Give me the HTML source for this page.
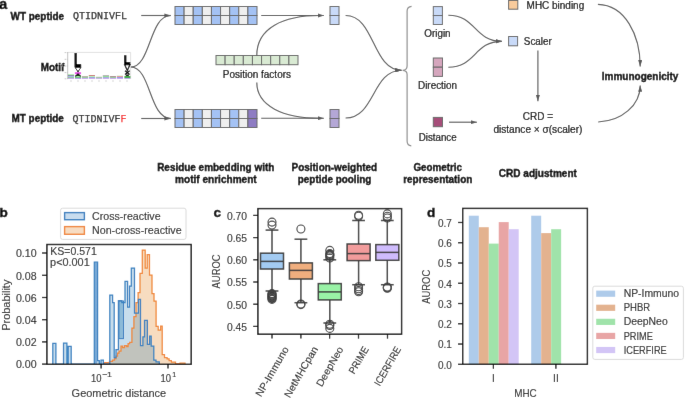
<!DOCTYPE html>
<html><head><meta charset="utf-8"><style>
html,body{margin:0;padding:0;background:#fff;overflow:hidden;}
svg{display:block;}
</style></head><body>
<svg width="685" height="398" viewBox="0 0 685 398">
<defs><filter id="bl" x="0" y="0" width="100%" height="100%" filterUnits="userSpaceOnUse"><feConvolveMatrix order="3" kernelMatrix="0.0028 0.047 0.0028 0.047 0.8008 0.047 0.0028 0.047 0.0028" edgeMode="duplicate" preserveAlpha="true"/></filter></defs>
<g filter="url(#bl)">
<rect width="685" height="398" fill="#fff"/>
<text x="-0.7" y="9.0" font-size="14.2" font-weight="bold" fill="#000" font-family='"Liberation Sans", sans-serif' text-anchor="start" stroke="#000" stroke-width="0.35" >a</text>
<text x="10.6" y="19.5" font-size="10" font-weight="bold" fill="#000" font-family='"Liberation Sans", sans-serif' text-anchor="start" textLength="53.5" lengthAdjust="spacingAndGlyphs" stroke="#000" stroke-width="0.35" >WT peptide</text>
<text x="72.9" y="18.9" font-size="10" font-weight="normal" fill="#222" font-family='"Liberation Mono", monospace' text-anchor="start" textLength="54" lengthAdjust="spacingAndGlyphs" stroke="#222" stroke-width="0.25">QTIDNIVFL</text>
<text x="11.6" y="122.0" font-size="10" font-weight="bold" fill="#000" font-family='"Liberation Sans", sans-serif' text-anchor="start" textLength="52.2" lengthAdjust="spacingAndGlyphs" stroke="#000" stroke-width="0.35" >MT peptide</text>
<text x="72.5" y="122.4" font-size="10" fill="#222" stroke="#222" stroke-width="0.25" font-family='"Liberation Mono", monospace' textLength="54" lengthAdjust="spacingAndGlyphs">QTIDNIVF<tspan fill="#f52a2a" stroke="#f52a2a">F</tspan></text>
<text x="40.7" y="71.2" font-size="10" font-weight="bold" fill="#000" font-family='"Liberation Sans", sans-serif' text-anchor="start" textLength="23.5" lengthAdjust="spacingAndGlyphs" stroke="#000" stroke-width="0.35" >Motif</text>
<rect x="175.0" y="6.5" width="9.11" height="9.0" fill="#a4c2f4" stroke="#666666" stroke-width="1" />
<rect x="184.11" y="6.5" width="9.11" height="9.0" fill="#efefef" stroke="#666666" stroke-width="1" />
<rect x="193.22" y="6.5" width="9.11" height="9.0" fill="#a4c2f4" stroke="#666666" stroke-width="1" />
<rect x="202.33" y="6.5" width="9.11" height="9.0" fill="#efefef" stroke="#666666" stroke-width="1" />
<rect x="211.44" y="6.5" width="9.11" height="9.0" fill="#a4c2f4" stroke="#666666" stroke-width="1" />
<rect x="220.56" y="6.5" width="9.11" height="9.0" fill="#efefef" stroke="#666666" stroke-width="1" />
<rect x="229.67" y="6.5" width="9.11" height="9.0" fill="#a4c2f4" stroke="#666666" stroke-width="1" />
<rect x="238.78" y="6.5" width="9.11" height="9.0" fill="#efefef" stroke="#666666" stroke-width="1" />
<rect x="247.89" y="6.5" width="9.11" height="9.0" fill="#a4c2f4" stroke="#666666" stroke-width="1" />
<rect x="175.0" y="15.5" width="9.11" height="9.0" fill="#a4c2f4" stroke="#666666" stroke-width="1" />
<rect x="184.11" y="15.5" width="9.11" height="9.0" fill="#efefef" stroke="#666666" stroke-width="1" />
<rect x="193.22" y="15.5" width="9.11" height="9.0" fill="#a4c2f4" stroke="#666666" stroke-width="1" />
<rect x="202.33" y="15.5" width="9.11" height="9.0" fill="#efefef" stroke="#666666" stroke-width="1" />
<rect x="211.44" y="15.5" width="9.11" height="9.0" fill="#a4c2f4" stroke="#666666" stroke-width="1" />
<rect x="220.56" y="15.5" width="9.11" height="9.0" fill="#efefef" stroke="#666666" stroke-width="1" />
<rect x="229.67" y="15.5" width="9.11" height="9.0" fill="#a4c2f4" stroke="#666666" stroke-width="1" />
<rect x="238.78" y="15.5" width="9.11" height="9.0" fill="#efefef" stroke="#666666" stroke-width="1" />
<rect x="247.89" y="15.5" width="9.11" height="9.0" fill="#a4c2f4" stroke="#666666" stroke-width="1" />
<rect x="175.0" y="109.5" width="9.11" height="9.0" fill="#a4c2f4" stroke="#666666" stroke-width="1" />
<rect x="184.11" y="109.5" width="9.11" height="9.0" fill="#efefef" stroke="#666666" stroke-width="1" />
<rect x="193.22" y="109.5" width="9.11" height="9.0" fill="#a4c2f4" stroke="#666666" stroke-width="1" />
<rect x="202.33" y="109.5" width="9.11" height="9.0" fill="#efefef" stroke="#666666" stroke-width="1" />
<rect x="211.44" y="109.5" width="9.11" height="9.0" fill="#a4c2f4" stroke="#666666" stroke-width="1" />
<rect x="220.56" y="109.5" width="9.11" height="9.0" fill="#efefef" stroke="#666666" stroke-width="1" />
<rect x="229.67" y="109.5" width="9.11" height="9.0" fill="#a4c2f4" stroke="#666666" stroke-width="1" />
<rect x="238.78" y="109.5" width="9.11" height="9.0" fill="#efefef" stroke="#666666" stroke-width="1" />
<rect x="247.89" y="109.5" width="9.11" height="9.0" fill="#8e7cc3" stroke="#666666" stroke-width="1" />
<rect x="175.0" y="118.5" width="9.11" height="9.0" fill="#a4c2f4" stroke="#666666" stroke-width="1" />
<rect x="184.11" y="118.5" width="9.11" height="9.0" fill="#efefef" stroke="#666666" stroke-width="1" />
<rect x="193.22" y="118.5" width="9.11" height="9.0" fill="#a4c2f4" stroke="#666666" stroke-width="1" />
<rect x="202.33" y="118.5" width="9.11" height="9.0" fill="#efefef" stroke="#666666" stroke-width="1" />
<rect x="211.44" y="118.5" width="9.11" height="9.0" fill="#a4c2f4" stroke="#666666" stroke-width="1" />
<rect x="220.56" y="118.5" width="9.11" height="9.0" fill="#efefef" stroke="#666666" stroke-width="1" />
<rect x="229.67" y="118.5" width="9.11" height="9.0" fill="#a4c2f4" stroke="#666666" stroke-width="1" />
<rect x="238.78" y="118.5" width="9.11" height="9.0" fill="#efefef" stroke="#666666" stroke-width="1" />
<rect x="247.89" y="118.5" width="9.11" height="9.0" fill="#8e7cc3" stroke="#666666" stroke-width="1" />
<rect x="216.0" y="55.5" width="9.11" height="9.2" fill="#d9ead3" stroke="#666666" stroke-width="1" />
<rect x="225.11" y="55.5" width="9.11" height="9.2" fill="#d9ead3" stroke="#666666" stroke-width="1" />
<rect x="234.22" y="55.5" width="9.11" height="9.2" fill="#d9ead3" stroke="#666666" stroke-width="1" />
<rect x="243.33" y="55.5" width="9.11" height="9.2" fill="#d9ead3" stroke="#666666" stroke-width="1" />
<rect x="252.44" y="55.5" width="9.11" height="9.2" fill="#d9ead3" stroke="#666666" stroke-width="1" />
<rect x="261.56" y="55.5" width="9.11" height="9.2" fill="#d9ead3" stroke="#666666" stroke-width="1" />
<rect x="270.67" y="55.5" width="9.11" height="9.2" fill="#d9ead3" stroke="#666666" stroke-width="1" />
<rect x="279.78" y="55.5" width="9.11" height="9.2" fill="#d9ead3" stroke="#666666" stroke-width="1" />
<rect x="288.89" y="55.5" width="9.11" height="9.2" fill="#d9ead3" stroke="#666666" stroke-width="1" />
<text x="222.8" y="78.2" font-size="10" font-weight="normal" fill="#000" font-family='"Liberation Sans", sans-serif' text-anchor="start" textLength="68.2" lengthAdjust="spacingAndGlyphs" stroke="#000" stroke-width="0.2" >Position factors</text>
<rect x="330.0" y="6.5" width="9.0" height="9.0" fill="#c9daf8" stroke="#666666" stroke-width="1" />
<rect x="330.0" y="15.5" width="9.0" height="9.0" fill="#c9daf8" stroke="#666666" stroke-width="1" />
<rect x="330.0" y="109.5" width="9.0" height="9.0" fill="#b4a7d6" stroke="#666666" stroke-width="1" />
<rect x="330.0" y="118.5" width="9.0" height="9.0" fill="#b4a7d6" stroke="#666666" stroke-width="1" />
<rect x="433.3" y="6.6" width="9.1" height="8.95" fill="#c9daf8" stroke="#666666" stroke-width="1" />
<rect x="433.3" y="15.55" width="9.1" height="8.95" fill="#c9daf8" stroke="#666666" stroke-width="1" />
<rect x="433.3" y="58.0" width="9.2" height="9.2" fill="#d5a6bd" stroke="#666666" stroke-width="1" />
<rect x="433.3" y="67.2" width="9.2" height="9.2" fill="#d5a6bd" stroke="#666666" stroke-width="1" />
<rect x="433.3" y="117.4" width="9.2" height="9.3" fill="#a64d79" stroke="#666666" stroke-width="1" />
<rect x="508.6" y="0.4" width="9.2" height="8.8" fill="#f9cb9c" stroke="#666666" stroke-width="1" />
<rect x="508.6" y="36.5" width="9.0" height="9.3" fill="#c9daf8" stroke="#666666" stroke-width="1" />
<text x="424.3" y="37.3" font-size="10" font-weight="normal" fill="#000" font-family='"Liberation Sans", sans-serif' text-anchor="start" textLength="26.3" lengthAdjust="spacingAndGlyphs" stroke="#000" stroke-width="0.2" >Origin</text>
<text x="418.0" y="89.3" font-size="10" font-weight="normal" fill="#000" font-family='"Liberation Sans", sans-serif' text-anchor="start" textLength="39.1" lengthAdjust="spacingAndGlyphs" stroke="#000" stroke-width="0.2" >Direction</text>
<text x="418.7" y="140.6" font-size="10" font-weight="normal" fill="#000" font-family='"Liberation Sans", sans-serif' text-anchor="start" textLength="37.9" lengthAdjust="spacingAndGlyphs" stroke="#000" stroke-width="0.2" >Distance</text>
<text x="526.6" y="9.1" font-size="10" font-weight="normal" fill="#000" font-family='"Liberation Sans", sans-serif' text-anchor="start" textLength="57.6" lengthAdjust="spacingAndGlyphs" stroke="#000" stroke-width="0.2" >MHC binding</text>
<text x="523.8" y="45.1" font-size="10" font-weight="normal" fill="#000" font-family='"Liberation Sans", sans-serif' text-anchor="start" textLength="28" lengthAdjust="spacingAndGlyphs" stroke="#000" stroke-width="0.2" >Scaler</text>
<text x="522.8" y="120.0" font-size="10" font-weight="normal" fill="#000" font-family='"Liberation Sans", sans-serif' text-anchor="start" textLength="30.2" lengthAdjust="spacingAndGlyphs" stroke="#000" stroke-width="0.2" >CRD =</text>
<text x="493.4" y="132.6" font-size="10" font-weight="normal" fill="#000" font-family='"Liberation Sans", sans-serif' text-anchor="start" textLength="89" lengthAdjust="spacingAndGlyphs" stroke="#000" stroke-width="0.2" >distance × σ(scaler)</text>
<text x="601.8" y="79.8" font-size="10" font-weight="bold" fill="#000" font-family='"Liberation Sans", sans-serif' text-anchor="start" textLength="76.6" lengthAdjust="spacingAndGlyphs" stroke="#000" stroke-width="0.35" >Immunogenicity</text>
<text x="157.2" y="170.9" font-size="10" font-weight="bold" fill="#000" font-family='"Liberation Sans", sans-serif' text-anchor="start" textLength="117.1" lengthAdjust="spacingAndGlyphs" stroke="#000" stroke-width="0.35" >Residue embedding with</text>
<text x="175.1" y="182.6" font-size="10" font-weight="bold" fill="#000" font-family='"Liberation Sans", sans-serif' text-anchor="start" textLength="81.6" lengthAdjust="spacingAndGlyphs" stroke="#000" stroke-width="0.35" >motif enrichment</text>
<text x="291.6" y="170.9" font-size="10" font-weight="bold" fill="#000" font-family='"Liberation Sans", sans-serif' text-anchor="start" textLength="85.5" lengthAdjust="spacingAndGlyphs" stroke="#000" stroke-width="0.35" >Position-weighted</text>
<text x="297.8" y="182.6" font-size="10" font-weight="bold" fill="#000" font-family='"Liberation Sans", sans-serif' text-anchor="start" textLength="73.6" lengthAdjust="spacingAndGlyphs" stroke="#000" stroke-width="0.35" >peptide pooling</text>
<text x="413.4" y="170.9" font-size="10" font-weight="bold" fill="#000" font-family='"Liberation Sans", sans-serif' text-anchor="start" textLength="48.6" lengthAdjust="spacingAndGlyphs" stroke="#000" stroke-width="0.35" >Geometric</text>
<text x="403.2" y="182.6" font-size="10" font-weight="bold" fill="#000" font-family='"Liberation Sans", sans-serif' text-anchor="start" textLength="69.1" lengthAdjust="spacingAndGlyphs" stroke="#000" stroke-width="0.35" >representation</text>
<text x="498.8" y="176.5" font-size="10" font-weight="bold" fill="#000" font-family='"Liberation Sans", sans-serif' text-anchor="start" textLength="78.1" lengthAdjust="spacingAndGlyphs" stroke="#000" stroke-width="0.35" >CRD adjustment</text>
<defs><marker id="ah" viewBox="0 0 6.4 4.4" refX="6.4" refY="2.2" markerWidth="6.4" markerHeight="4.4" markerUnits="userSpaceOnUse" orient="auto"><path d="M0,0.1 L6.4,2.2 L0,4.3 Z" fill="#595959"/></marker></defs>
<path d="M141.2,15.5 L170.8,15.5" stroke="#595959" stroke-width="1.15" fill="none" marker-end="url(#ah)"/>
<path d="M141.2,118.5 L170.8,118.5" stroke="#595959" stroke-width="1.15" fill="none" marker-end="url(#ah)"/>
<path d="M130.8,67 C151,67 149,15.5 170.8,15.5" stroke="#595959" stroke-width="1.15" fill="none" />
<path d="M130.8,67 C151,67 149,118.5 170.8,118.5" stroke="#595959" stroke-width="1.15" fill="none" />
<path d="M261.2,15.5 L323.9,15.5" stroke="#595959" stroke-width="1.15" fill="none" marker-end="url(#ah)"/>
<path d="M261.2,118.2 L323.9,118.2" stroke="#595959" stroke-width="1.15" fill="none" marker-end="url(#ah)"/>
<path d="M256.8,55.3 C256.8,28 283,15.5 320,15.5" stroke="#595959" stroke-width="1.15" fill="none" />
<path d="M256.8,82.6 C256.8,106 283,118.2 320,118.2" stroke="#595959" stroke-width="1.15" fill="none" />
<path d="M345.6,15.5 C375,15.5 372,70.2 401.6,70.2" stroke="#595959" stroke-width="1.15" fill="none" marker-end="url(#ah)"/>
<path d="M345.6,118 C375,118 372,70.2 401.6,70.2" stroke="#595959" stroke-width="1.15" fill="none" marker-end="url(#ah)"/>
<path d="M411.6,6.3 Q407.1,6.8 407.1,11 L407.1,66 Q407.1,70.2 402.6,70.3 Q407.1,70.6 407.1,74.5 L407.1,141 Q407.1,145.6 411.3,145.8" stroke="#8f8f8f" stroke-width="1.2" fill="none" />
<path d="M448.3,15.2 C476,15.2 474,41.3 501.9,41.3" stroke="#595959" stroke-width="1.15" fill="none" marker-end="url(#ah)"/>
<path d="M448.3,67.2 C476,67.2 474,41.3 501.9,41.3" stroke="#595959" stroke-width="1.15" fill="none" marker-end="url(#ah)"/>
<path d="M449,122.2 L476.9,122.2" stroke="#595959" stroke-width="1.15" fill="none" marker-end="url(#ah)"/>
<path d="M537.9,50.6 L537.9,101.2" stroke="#595959" stroke-width="1.15" fill="none" marker-end="url(#ah)"/>
<path d="M597.9,4.4 C625,5 640.2,35 640.2,66.5" stroke="#595959" stroke-width="1.15" fill="none" marker-end="url(#ah)"/>
<path d="M598.2,122 C622,121 640.2,105 640.2,85.4" stroke="#595959" stroke-width="1.15" fill="none" marker-end="url(#ah)"/>
<g>
<path d="M67.7,52.4 L130.6,52.4 L130.6,78.8" stroke="#d4d4d4" stroke-width="0.7" fill="none" />
<line x1="67.7" y1="52.2" x2="67.7" y2="79.0" stroke="#a8a8a8" stroke-width="0.7" />
<line x1="66.5" y1="52.6" x2="67.7" y2="52.6" stroke="#b0b0b0" stroke-width="0.5" />
<rect x="64.6" y="52.1" width="1.4" height="1.0" fill="#c8c8c8" stroke="none" stroke-width="1" />
<line x1="66.5" y1="59.3" x2="67.7" y2="59.3" stroke="#b0b0b0" stroke-width="0.5" />
<rect x="64.6" y="58.8" width="1.4" height="1.0" fill="#c8c8c8" stroke="none" stroke-width="1" />
<line x1="66.5" y1="66.0" x2="67.7" y2="66.0" stroke="#b0b0b0" stroke-width="0.5" />
<rect x="64.6" y="65.5" width="1.4" height="1.0" fill="#c8c8c8" stroke="none" stroke-width="1" />
<line x1="66.5" y1="72.6" x2="67.7" y2="72.6" stroke="#b0b0b0" stroke-width="0.5" />
<rect x="64.6" y="72.1" width="1.4" height="1.0" fill="#c8c8c8" stroke="none" stroke-width="1" />
<line x1="66.5" y1="78.8" x2="67.7" y2="78.8" stroke="#b0b0b0" stroke-width="0.5" />
<rect x="64.6" y="78.3" width="1.4" height="1.0" fill="#c8c8c8" stroke="none" stroke-width="1" />
<rect x="61.5" y="63.5" width="1.0" height="3.5" fill="#bbbbbb" stroke="none" stroke-width="1" />
<rect x="70.5" y="80.3" width="1.0" height="1.4" fill="#c4c4c4" stroke="none" stroke-width="1" />
<rect x="77.5" y="80.3" width="1.0" height="1.4" fill="#c4c4c4" stroke="none" stroke-width="1" />
<rect x="84.5" y="80.3" width="1.0" height="1.4" fill="#c4c4c4" stroke="none" stroke-width="1" />
<rect x="91.5" y="80.3" width="1.0" height="1.4" fill="#c4c4c4" stroke="none" stroke-width="1" />
<rect x="98.5" y="80.3" width="1.0" height="1.4" fill="#c4c4c4" stroke="none" stroke-width="1" />
<rect x="105.5" y="80.3" width="1.0" height="1.4" fill="#c4c4c4" stroke="none" stroke-width="1" />
<rect x="112.5" y="80.3" width="1.0" height="1.4" fill="#c4c4c4" stroke="none" stroke-width="1" />
<rect x="119.5" y="80.3" width="1.0" height="1.4" fill="#c4c4c4" stroke="none" stroke-width="1" />
<rect x="126.5" y="80.3" width="1.0" height="1.4" fill="#c4c4c4" stroke="none" stroke-width="1" />
<path d="M74.5,53 L76.8,53 L76.8,64.0 L80.6,64.0 L81.2,64.6 L81.2,67.0 L74.5,67.0 Z" stroke="none" stroke-width="1.15" fill="#000" />
<path d="M75.0,67.4 L81.0,67.4 L78.0,71.6 Z" stroke="#000" stroke-width="0.9" fill="#fff" />
<rect x="77.1" y="71.3" width="1.8" height="1.0" fill="#000" stroke="none" stroke-width="1" />
<rect x="74.9" y="72.2" width="6.2" height="2.0" fill="#e64ce6" stroke="none" stroke-width="1" />
<path d="M75.2,76.4 L78,74.2 L80.8,76.4" stroke="#000" stroke-width="1.3" fill="none" />
<rect x="75.0" y="76.5" width="6.0" height="1.2" fill="#3ad43a" stroke="none" stroke-width="1" />
<rect x="75.0" y="77.7" width="6.0" height="1.0" fill="#7a4ad0" stroke="none" stroke-width="1" opacity="0.8"/>
<path d="M124.1,55.2 L126.4,55.2 L126.4,61.9 L130.3,61.9 L130.3,64.4 L124.1,64.4 Z" stroke="none" stroke-width="1.15" fill="#000" />
<path d="M124.6,64.6 L130.0,64.6 L127.3,70.6 Z" stroke="#000" stroke-width="1.2" fill="#fff" />
<path d="M125,70.8 L129.6,74.6 M129.6,70.8 L125,74.6" stroke="#000" stroke-width="1.3" fill="none" />
<rect x="125.8" y="74.5" width="3.0" height="1.6" fill="#000" stroke="none" stroke-width="1" />
<rect x="124.4" y="76.1" width="6.0" height="1.8" fill="#2fa52f" stroke="none" stroke-width="1" />
<rect x="124.4" y="77.9" width="6.0" height="0.8" fill="#6a4ac0" stroke="none" stroke-width="1" opacity="0.7"/>
<rect x="67.9" y="74.4" width="6.2" height="0.7" fill="#3ad43a" stroke="none" stroke-width="1" opacity="0.6"/>
<rect x="67.9" y="75.1" width="6.2" height="1.0" fill="#333366" stroke="none" stroke-width="1" opacity="0.6"/>
<rect x="67.9" y="76.1" width="6.2" height="1.0" fill="#6a8ad8" stroke="none" stroke-width="1" opacity="0.6"/>
<rect x="67.9" y="77.1" width="6.2" height="0.8" fill="#2faa2f" stroke="none" stroke-width="1" opacity="0.6"/>
<rect x="67.9" y="77.9" width="6.2" height="0.8" fill="#7a3ad0" stroke="none" stroke-width="1" opacity="0.6"/>
<rect x="81.8" y="76.3" width="6.2" height="0.8" fill="#555533" stroke="none" stroke-width="1" opacity="0.6"/>
<rect x="81.8" y="77.1" width="6.2" height="0.8" fill="#3aaa3a" stroke="none" stroke-width="1" opacity="0.6"/>
<rect x="81.8" y="77.9" width="6.2" height="0.8" fill="#7a3ad0" stroke="none" stroke-width="1" opacity="0.6"/>
<rect x="88.8" y="75.0" width="6.2" height="1.0" fill="#aa2222" stroke="none" stroke-width="1" opacity="0.6"/>
<rect x="88.8" y="76.0" width="6.2" height="0.4" fill="#ffffff" stroke="none" stroke-width="1" opacity="0.6"/>
<rect x="88.8" y="76.4" width="6.2" height="0.8" fill="#3ad43a" stroke="none" stroke-width="1" opacity="0.6"/>
<rect x="88.8" y="77.2" width="6.2" height="0.8" fill="#4a4ad0" stroke="none" stroke-width="1" opacity="0.6"/>
<rect x="88.8" y="78.0" width="6.2" height="0.7" fill="#7a3ad0" stroke="none" stroke-width="1" opacity="0.6"/>
<rect x="95.8" y="76.8" width="6.2" height="0.7" fill="#777777" stroke="none" stroke-width="1" opacity="0.6"/>
<rect x="95.8" y="77.5" width="6.2" height="0.6" fill="#3aaa3a" stroke="none" stroke-width="1" opacity="0.6"/>
<rect x="95.8" y="78.1" width="6.2" height="0.6" fill="#7a3ad0" stroke="none" stroke-width="1" opacity="0.6"/>
<rect x="102.8" y="75.4" width="6.2" height="0.8" fill="#333333" stroke="none" stroke-width="1" opacity="0.6"/>
<rect x="102.8" y="76.2" width="6.2" height="1.0" fill="#3ad43a" stroke="none" stroke-width="1" opacity="0.6"/>
<rect x="102.8" y="77.2" width="6.2" height="0.8" fill="#5a5ad0" stroke="none" stroke-width="1" opacity="0.6"/>
<rect x="102.8" y="78.0" width="6.2" height="0.7" fill="#7a3ad0" stroke="none" stroke-width="1" opacity="0.6"/>
<rect x="109.8" y="76.2" width="6.2" height="0.9" fill="#552222" stroke="none" stroke-width="1" opacity="0.6"/>
<rect x="109.8" y="77.1" width="6.2" height="0.8" fill="#3aaa3a" stroke="none" stroke-width="1" opacity="0.6"/>
<rect x="109.8" y="77.9" width="6.2" height="0.8" fill="#7a3ad0" stroke="none" stroke-width="1" opacity="0.6"/>
<rect x="116.8" y="75.6" width="6.2" height="0.6" fill="#8ae08a" stroke="none" stroke-width="1" opacity="0.6"/>
<rect x="116.8" y="76.2" width="6.2" height="0.8" fill="#cc3333" stroke="none" stroke-width="1" opacity="0.6"/>
<rect x="116.8" y="77.0" width="6.2" height="0.9" fill="#4a4ad0" stroke="none" stroke-width="1" opacity="0.6"/>
<rect x="116.8" y="77.9" width="6.2" height="0.8" fill="#7a3ad0" stroke="none" stroke-width="1" opacity="0.6"/>
</g>
<text x="-0.5" y="217.3" font-size="13.6" font-weight="bold" fill="#000" font-family='"Liberation Sans", sans-serif' text-anchor="start" stroke="#000" stroke-width="0.35" >b</text>
<rect x="60.6" y="208.2" width="125.4" height="31.2" rx="2" ry="2" fill="#fff" stroke="#d6d6d6" stroke-width="0.9"/>
<rect x="64.6" y="212.6" width="19.8" height="7.1" fill="#c8dcee" stroke="#3680c0" stroke-width="1.4" />
<rect x="64.6" y="226.6" width="19.8" height="7.7" fill="#f7dcc2" stroke="#f08634" stroke-width="1.4" />
<text x="92.0" y="219.8" font-size="10.4" font-weight="normal" fill="#262626" font-family='"Liberation Sans", sans-serif' text-anchor="start" textLength="68.6" lengthAdjust="spacingAndGlyphs" stroke="#262626" stroke-width="0.12" >Cross-reactive</text>
<text x="92.0" y="233.9" font-size="10.4" font-weight="normal" fill="#262626" font-family='"Liberation Sans", sans-serif' text-anchor="start" textLength="89.6" lengthAdjust="spacingAndGlyphs" stroke="#262626" stroke-width="0.12" >Non-cross-reactive</text>
<path d="M104,364 L104,362.6 L109.5,362.6 L109.5,361.3 L112.5,361.3 L112.5,360.1 L114.5,360.1 L114.5,358.6 L116,358.6 L116,356.1 L117.5,356.1 L117.5,353.1 L119,353.1 L119,351.1 L121,351.1 L121,346.2 L122.6,346.2 L122.6,347.6 L124.5,347.6 L124.5,345.6 L126.7,345.6 L126.7,346.6 L128.1,346.6 L128.1,343.6 L129.6,343.6 L129.6,342.4 L131.9,342.4 L131.9,328 L133.9,328 L133.9,316.5 L136,316.5 L136,302.6 L138.1,302.6 L138.1,292.6 L140,292.6 L140,273.3 L142.3,273.3 L142.3,250 L145.2,250 L145.2,268.2 L147.2,268.2 L147.2,254.5 L149.5,254.5 L149.5,275.2 L152,275.2 L152,293.7 L154,293.7 L154,301.1 L156.1,301.1 L156.1,326.4 L158.2,326.4 L158.2,330.2 L160.6,330.2 L160.6,326 L162.2,326 L162.2,354.7 L164.5,354.7 L164.5,357.6 L167.1,357.6 L167.1,358.8 L169.1,358.8 L169.1,360.7 L171.4,360.7 L171.4,362.2 L175.5,362.2 L175.5,363.5 L180,363.5 L180,363.1 L185,363.1 L185,364 Z" fill="#f7dcc0" stroke="none"/>
<path d="M52.8,364 L52.8,343.3 L55.9,343.3 L55.9,364 L63.5,364 L63.5,343 L66.9,343 L66.9,364 L68.2,364 L68.2,346.3 L71.2,346.3 L71.2,364 L94.3,364 L94.3,262.1 L97.6,262.1 L97.6,360.5 L99.3,360.5 L99.3,364 L101,364 L101,360.2 L103.4,360.2 L103.4,364 L109.8,364 L109.8,295.2 L112.6,295.2 L112.6,302.6 L114.2,302.6 L114.2,357.6 L116,357.6 L116,349.6 L118.4,349.6 L118.4,300.5 L121.8,300.5 L121.8,302.5 L125.0,302.5 L125.0,281.4 L127.6,281.4 L127.6,307.1 L129.5,307.1 L129.5,286 L131.3,286 L131.3,268.1 L134.5,268.1 L134.5,313.2 L138.4,313.2 L138.4,299.4 L140.5,299.4 L140.5,345.6 L142.9,345.6 L142.9,336.8 L144.5,336.8 L144.5,320.4 L147.4,320.4 L147.4,344.3 L149.6,344.3 L149.6,336.1 L151.2,336.1 L151.2,346.2 L153.8,346.2 L153.8,360 L156,360 L156,361.8 L159.3,361.8 L159.3,364 Z" fill="rgba(31,119,180,0.25)" stroke="none"/>
<rect x="94.8" y="262.8" width="2.3" height="101" fill="#78a8d6"/>
<rect x="118.9" y="301.0" width="4.6" height="37.6" fill="rgba(31,119,180,0.35)" stroke="#3a7fc0" stroke-width="1"/>
<path d="M104,364 L104,362.6 L109.5,362.6 L109.5,361.3 L112.5,361.3 L112.5,360.1 L114.5,360.1 L114.5,358.6 L116,358.6 L116,356.1 L117.5,356.1 L117.5,353.1 L119,353.1 L119,351.1 L121,351.1 L121,346.2 L122.6,346.2 L122.6,347.6 L124.5,347.6 L124.5,345.6 L126.7,345.6 L126.7,346.6 L128.1,346.6 L128.1,343.6 L129.6,343.6 L129.6,342.4 L131.9,342.4 L131.9,328 L133.9,328 L133.9,316.5 L136,316.5 L136,302.6 L138.1,302.6 L138.1,292.6 L140,292.6 L140,273.3 L142.3,273.3 L142.3,250 L145.2,250 L145.2,268.2 L147.2,268.2 L147.2,254.5 L149.5,254.5 L149.5,275.2 L152,275.2 L152,293.7 L154,293.7 L154,301.1 L156.1,301.1 L156.1,326.4 L158.2,326.4 L158.2,330.2 L160.6,330.2 L160.6,326 L162.2,326 L162.2,354.7 L164.5,354.7 L164.5,357.6 L167.1,357.6 L167.1,358.8 L169.1,358.8 L169.1,360.7 L171.4,360.7 L171.4,362.2 L175.5,362.2 L175.5,363.5 L180,363.5 L180,363.1 L185,363.1 L185,364" fill="none" stroke="#f08634" stroke-width="1.25" stroke-linejoin="miter"/>
<path d="M52.8,364 L52.8,343.3 L55.9,343.3 L55.9,364 L63.5,364 L63.5,343 L66.9,343 L66.9,364 L68.2,364 L68.2,346.3 L71.2,346.3 L71.2,364 L94.3,364 L94.3,262.1 L97.6,262.1 L97.6,360.5 L99.3,360.5 L99.3,364 L101,364 L101,360.2 L103.4,360.2 L103.4,364 L109.8,364 L109.8,295.2 L112.6,295.2 L112.6,302.6 L114.2,302.6 L114.2,357.6 L116,357.6 L116,349.6 L118.4,349.6 L118.4,300.5 L121.8,300.5 L121.8,302.5 L125.0,302.5 L125.0,281.4 L127.6,281.4 L127.6,307.1 L129.5,307.1 L129.5,286 L131.3,286 L131.3,268.1 L134.5,268.1 L134.5,313.2 L138.4,313.2 L138.4,299.4 L140.5,299.4 L140.5,345.6 L142.9,345.6 L142.9,336.8 L144.5,336.8 L144.5,320.4 L147.4,320.4 L147.4,344.3 L149.6,344.3 L149.6,336.1 L151.2,336.1 L151.2,346.2 L153.8,346.2 L153.8,360 L156,360 L156,361.8 L159.3,361.8 L159.3,364" fill="none" stroke="#3680c0" stroke-width="1.25" stroke-linejoin="miter"/>
<rect x="46.9" y="244.5" width="144.3" height="119.8" fill="none" stroke="#000" stroke-width="1.4"/>
<line x1="42.0" y1="364.1" x2="46.9" y2="364.1" stroke="#000" stroke-width="1.25" />
<text x="15.9" y="368.4" font-size="10.4" font-weight="normal" fill="#262626" font-family='"Liberation Sans", sans-serif' text-anchor="start" textLength="20.7" lengthAdjust="spacingAndGlyphs" stroke="#262626" stroke-width="0.12" >0.00</text>
<line x1="42.0" y1="341.9" x2="46.9" y2="341.9" stroke="#000" stroke-width="1.25" />
<text x="15.9" y="346.2" font-size="10.4" font-weight="normal" fill="#262626" font-family='"Liberation Sans", sans-serif' text-anchor="start" textLength="20.7" lengthAdjust="spacingAndGlyphs" stroke="#262626" stroke-width="0.12" >0.02</text>
<line x1="42.0" y1="319.7" x2="46.9" y2="319.7" stroke="#000" stroke-width="1.25" />
<text x="15.9" y="324.0" font-size="10.4" font-weight="normal" fill="#262626" font-family='"Liberation Sans", sans-serif' text-anchor="start" textLength="20.7" lengthAdjust="spacingAndGlyphs" stroke="#262626" stroke-width="0.12" >0.04</text>
<line x1="42.0" y1="297.5" x2="46.9" y2="297.5" stroke="#000" stroke-width="1.25" />
<text x="15.9" y="301.8" font-size="10.4" font-weight="normal" fill="#262626" font-family='"Liberation Sans", sans-serif' text-anchor="start" textLength="20.7" lengthAdjust="spacingAndGlyphs" stroke="#262626" stroke-width="0.12" >0.06</text>
<line x1="42.0" y1="275.3" x2="46.9" y2="275.3" stroke="#000" stroke-width="1.25" />
<text x="15.9" y="279.6" font-size="10.4" font-weight="normal" fill="#262626" font-family='"Liberation Sans", sans-serif' text-anchor="start" textLength="20.7" lengthAdjust="spacingAndGlyphs" stroke="#262626" stroke-width="0.12" >0.08</text>
<line x1="42.0" y1="253.0" x2="46.9" y2="253.0" stroke="#000" stroke-width="1.25" />
<text x="15.9" y="257.3" font-size="10.4" font-weight="normal" fill="#262626" font-family='"Liberation Sans", sans-serif' text-anchor="start" textLength="20.7" lengthAdjust="spacingAndGlyphs" stroke="#262626" stroke-width="0.12" >0.10</text>
<line x1="101.1" y1="364.3" x2="101.1" y2="368.6" stroke="#000" stroke-width="1.25" />
<line x1="168.0" y1="364.3" x2="168.0" y2="368.6" stroke="#000" stroke-width="1.25" />
<text x="90.9" y="381.6" font-size="10.4" font-weight="normal" fill="#262626" font-family='"Liberation Sans", sans-serif' text-anchor="start" textLength="10.5" lengthAdjust="spacingAndGlyphs" stroke="#262626" stroke-width="0.12" >10</text>
<text x="101.9" y="377.2" font-size="7" font-weight="normal" fill="#262626" font-family='"Liberation Sans", sans-serif' text-anchor="start" textLength="10.2" lengthAdjust="spacingAndGlyphs" stroke="#262626" stroke-width="0.12" >−1</text>
<text x="160.5" y="381.6" font-size="10.4" font-weight="normal" fill="#262626" font-family='"Liberation Sans", sans-serif' text-anchor="start" textLength="10.5" lengthAdjust="spacingAndGlyphs" stroke="#262626" stroke-width="0.12" >10</text>
<text x="172.3" y="377.2" font-size="7.4" font-weight="normal" fill="#262626" font-family='"Liberation Sans", sans-serif' text-anchor="start" textLength="3.9" lengthAdjust="spacingAndGlyphs" stroke="#262626" stroke-width="0.12" >1</text>
<text x="71.6" y="396.9" font-size="10.4" font-weight="normal" fill="#262626" font-family='"Liberation Sans", sans-serif' text-anchor="start" textLength="94.6" lengthAdjust="spacingAndGlyphs" stroke="#262626" stroke-width="0.12" >Geometric distance</text>
<text x="0" y="0" font-size="10.4" fill="#262626" stroke="#262626" stroke-width="0.12" font-family='"Liberation Sans", sans-serif' textLength="51.2" lengthAdjust="spacingAndGlyphs" transform="translate(9.8,330.8) rotate(-90)">Probability</text>
<text x="50.2" y="255.3" font-size="10.2" font-weight="normal" fill="#262626" font-family='"Liberation Sans", sans-serif' text-anchor="start" textLength="46.6" lengthAdjust="spacingAndGlyphs" stroke="#262626" stroke-width="0.12" >KS=0.571</text>
<text x="50.1" y="266.1" font-size="10.2" font-weight="normal" fill="#262626" font-family='"Liberation Sans", sans-serif' text-anchor="start" textLength="39.6" lengthAdjust="spacingAndGlyphs" stroke="#262626" stroke-width="0.12" >p&lt;0.001</text>
<text x="213.4" y="217.2" font-size="13.6" font-weight="bold" fill="#000" font-family='"Liberation Sans", sans-serif' text-anchor="start" stroke="#000" stroke-width="0.35" >c</text>
<line x1="253.2" y1="215.4" x2="257.8" y2="215.4" stroke="#000" stroke-width="1.25" />
<text x="227.0" y="219.7" font-size="10.4" font-weight="normal" fill="#262626" font-family='"Liberation Sans", sans-serif' text-anchor="start" textLength="20.1" lengthAdjust="spacingAndGlyphs" stroke="#262626" stroke-width="0.12" >0.70</text>
<line x1="253.2" y1="237.6" x2="257.8" y2="237.6" stroke="#000" stroke-width="1.25" />
<text x="227.0" y="241.9" font-size="10.4" font-weight="normal" fill="#262626" font-family='"Liberation Sans", sans-serif' text-anchor="start" textLength="20.1" lengthAdjust="spacingAndGlyphs" stroke="#262626" stroke-width="0.12" >0.65</text>
<line x1="253.2" y1="259.8" x2="257.8" y2="259.8" stroke="#000" stroke-width="1.25" />
<text x="227.0" y="264.1" font-size="10.4" font-weight="normal" fill="#262626" font-family='"Liberation Sans", sans-serif' text-anchor="start" textLength="20.1" lengthAdjust="spacingAndGlyphs" stroke="#262626" stroke-width="0.12" >0.60</text>
<line x1="253.2" y1="282.0" x2="257.8" y2="282.0" stroke="#000" stroke-width="1.25" />
<text x="227.0" y="286.3" font-size="10.4" font-weight="normal" fill="#262626" font-family='"Liberation Sans", sans-serif' text-anchor="start" textLength="20.1" lengthAdjust="spacingAndGlyphs" stroke="#262626" stroke-width="0.12" >0.55</text>
<line x1="253.2" y1="304.2" x2="257.8" y2="304.2" stroke="#000" stroke-width="1.25" />
<text x="227.0" y="308.5" font-size="10.4" font-weight="normal" fill="#262626" font-family='"Liberation Sans", sans-serif' text-anchor="start" textLength="20.1" lengthAdjust="spacingAndGlyphs" stroke="#262626" stroke-width="0.12" >0.50</text>
<line x1="253.2" y1="326.4" x2="257.8" y2="326.4" stroke="#000" stroke-width="1.25" />
<text x="227.0" y="330.7" font-size="10.4" font-weight="normal" fill="#262626" font-family='"Liberation Sans", sans-serif' text-anchor="start" textLength="20.1" lengthAdjust="spacingAndGlyphs" stroke="#262626" stroke-width="0.12" >0.45</text>
<text x="0" y="0" font-size="10.4" fill="#262626" stroke="#262626" stroke-width="0.12" font-family='"Liberation Sans", sans-serif' textLength="33.9" lengthAdjust="spacingAndGlyphs" transform="translate(219.6,288.4) rotate(-90)">AUROC</text>
<line x1="272.0" y1="253.2" x2="272.0" y2="230.1" stroke="#3f3f3f" stroke-width="1.5" />
<line x1="272.0" y1="269.0" x2="272.0" y2="291.0" stroke="#3f3f3f" stroke-width="1.5" />
<line x1="265.6" y1="230.1" x2="278.4" y2="230.1" stroke="#3f3f3f" stroke-width="1.5" />
<line x1="265.6" y1="291.0" x2="278.4" y2="291.0" stroke="#3f3f3f" stroke-width="1.5" />
<rect x="260.5" y="253.2" width="23" height="15.8" fill="#a3cbf2" stroke="#3f3f3f" stroke-width="1.5" />
<line x1="260.5" y1="261.4" x2="283.5" y2="261.4" stroke="#3f3f3f" stroke-width="1.5" />
<circle cx="272.0" cy="222.1" r="4.0" fill="none" stroke="#3f3f3f" stroke-width="1.1"/>
<circle cx="272.0" cy="225.1" r="4.0" fill="none" stroke="#3f3f3f" stroke-width="1.1"/>
<circle cx="272.0" cy="293.6" r="4.0" fill="none" stroke="#3f3f3f" stroke-width="1.1"/>
<circle cx="272.0" cy="294.3" r="4.0" fill="none" stroke="#3f3f3f" stroke-width="1.1"/>
<circle cx="272.0" cy="295.0" r="4.0" fill="none" stroke="#3f3f3f" stroke-width="1.1"/>
<circle cx="272.0" cy="295.7" r="4.0" fill="none" stroke="#3f3f3f" stroke-width="1.1"/>
<circle cx="272.0" cy="296.4" r="4.0" fill="none" stroke="#3f3f3f" stroke-width="1.1"/>
<circle cx="272.0" cy="297.1" r="4.0" fill="none" stroke="#3f3f3f" stroke-width="1.1"/>
<circle cx="272.0" cy="297.8" r="4.0" fill="none" stroke="#3f3f3f" stroke-width="1.1"/>
<circle cx="272.0" cy="298.5" r="4.0" fill="none" stroke="#3f3f3f" stroke-width="1.1"/>
<circle cx="272.0" cy="299.4" r="4.0" fill="none" stroke="#3f3f3f" stroke-width="1.1"/>
<line x1="300.9" y1="262.9" x2="300.9" y2="239.2" stroke="#3f3f3f" stroke-width="1.5" />
<line x1="300.9" y1="279.0" x2="300.9" y2="302.7" stroke="#3f3f3f" stroke-width="1.5" />
<line x1="294.5" y1="239.2" x2="307.29999999999995" y2="239.2" stroke="#3f3f3f" stroke-width="1.5" />
<line x1="294.5" y1="302.7" x2="307.29999999999995" y2="302.7" stroke="#3f3f3f" stroke-width="1.5" />
<rect x="289.4" y="262.9" width="23" height="16.1" fill="#f0ae7e" stroke="#3f3f3f" stroke-width="1.5" />
<line x1="289.4" y1="270.4" x2="312.4" y2="270.4" stroke="#3f3f3f" stroke-width="1.5" />
<circle cx="300.9" cy="229.05" r="4.0" fill="none" stroke="#3f3f3f" stroke-width="1.1"/>
<circle cx="300.9" cy="304.6" r="4.0" fill="none" stroke="#3f3f3f" stroke-width="1.1"/>
<circle cx="300.9" cy="304.0" r="4.0" fill="none" stroke="#3f3f3f" stroke-width="1.1"/>
<line x1="329.8" y1="283.6" x2="329.8" y2="259.8" stroke="#3f3f3f" stroke-width="1.5" />
<line x1="329.8" y1="299.9" x2="329.8" y2="323.0" stroke="#3f3f3f" stroke-width="1.5" />
<line x1="323.40000000000003" y1="259.8" x2="336.2" y2="259.8" stroke="#3f3f3f" stroke-width="1.5" />
<line x1="323.40000000000003" y1="323.0" x2="336.2" y2="323.0" stroke="#3f3f3f" stroke-width="1.5" />
<rect x="318.3" y="283.6" width="23" height="16.3" fill="#99f2a6" stroke="#3f3f3f" stroke-width="1.5" />
<line x1="318.3" y1="291.9" x2="341.3" y2="291.9" stroke="#3f3f3f" stroke-width="1.5" />
<circle cx="329.8" cy="250.4" r="4.0" fill="none" stroke="#3f3f3f" stroke-width="1.1"/>
<circle cx="329.8" cy="253.6" r="4.0" fill="none" stroke="#3f3f3f" stroke-width="1.1"/>
<circle cx="329.8" cy="254.4" r="4.0" fill="none" stroke="#3f3f3f" stroke-width="1.1"/>
<circle cx="329.8" cy="255.2" r="4.0" fill="none" stroke="#3f3f3f" stroke-width="1.1"/>
<circle cx="329.8" cy="256.0" r="4.0" fill="none" stroke="#3f3f3f" stroke-width="1.1"/>
<circle cx="329.8" cy="258.0" r="4.0" fill="none" stroke="#3f3f3f" stroke-width="1.1"/>
<circle cx="329.8" cy="324.2" r="4.0" fill="none" stroke="#3f3f3f" stroke-width="1.1"/>
<circle cx="329.8" cy="325.5" r="4.0" fill="none" stroke="#3f3f3f" stroke-width="1.1"/>
<circle cx="329.8" cy="328.4" r="4.0" fill="none" stroke="#3f3f3f" stroke-width="1.1"/>
<line x1="358.6" y1="244.0" x2="358.6" y2="220.5" stroke="#3f3f3f" stroke-width="1.5" />
<line x1="358.6" y1="260.6" x2="358.6" y2="284.7" stroke="#3f3f3f" stroke-width="1.5" />
<line x1="352.20000000000005" y1="220.5" x2="365.0" y2="220.5" stroke="#3f3f3f" stroke-width="1.5" />
<line x1="352.20000000000005" y1="284.7" x2="365.0" y2="284.7" stroke="#3f3f3f" stroke-width="1.5" />
<rect x="347.1" y="244.0" width="23" height="16.6" fill="#f29c9c" stroke="#3f3f3f" stroke-width="1.5" />
<line x1="347.1" y1="253.6" x2="370.1" y2="253.6" stroke="#3f3f3f" stroke-width="1.5" />
<circle cx="358.6" cy="215.3" r="4.0" fill="none" stroke="#3f3f3f" stroke-width="1.1"/>
<circle cx="358.6" cy="216.3" r="4.0" fill="none" stroke="#3f3f3f" stroke-width="1.1"/>
<circle cx="358.6" cy="286.8" r="4.0" fill="none" stroke="#3f3f3f" stroke-width="1.1"/>
<circle cx="358.6" cy="288.8" r="4.0" fill="none" stroke="#3f3f3f" stroke-width="1.1"/>
<circle cx="358.6" cy="290.5" r="4.0" fill="none" stroke="#3f3f3f" stroke-width="1.1"/>
<circle cx="358.6" cy="291.8" r="4.0" fill="none" stroke="#3f3f3f" stroke-width="1.1"/>
<line x1="387.3" y1="244.6" x2="387.3" y2="220.5" stroke="#3f3f3f" stroke-width="1.5" />
<line x1="387.3" y1="260.3" x2="387.3" y2="284.7" stroke="#3f3f3f" stroke-width="1.5" />
<line x1="380.90000000000003" y1="220.5" x2="393.7" y2="220.5" stroke="#3f3f3f" stroke-width="1.5" />
<line x1="380.90000000000003" y1="284.7" x2="393.7" y2="284.7" stroke="#3f3f3f" stroke-width="1.5" />
<rect x="375.8" y="244.6" width="23" height="15.7" fill="#cfbcfd" stroke="#3f3f3f" stroke-width="1.5" />
<line x1="375.8" y1="252.4" x2="398.8" y2="252.4" stroke="#3f3f3f" stroke-width="1.5" />
<circle cx="387.3" cy="213.9" r="4.0" fill="none" stroke="#3f3f3f" stroke-width="1.1"/>
<circle cx="387.3" cy="216.3" r="4.0" fill="none" stroke="#3f3f3f" stroke-width="1.1"/>
<circle cx="387.3" cy="218.0" r="4.0" fill="none" stroke="#3f3f3f" stroke-width="1.1"/>
<circle cx="387.3" cy="287.0" r="4.0" fill="none" stroke="#3f3f3f" stroke-width="1.1"/>
<circle cx="387.3" cy="287.7" r="4.0" fill="none" stroke="#3f3f3f" stroke-width="1.1"/>
<circle cx="387.3" cy="288.3" r="4.0" fill="none" stroke="#3f3f3f" stroke-width="1.1"/>
<rect x="257.9" y="208.6" width="143.7" height="125.6" fill="none" stroke="#000" stroke-width="1.4"/>
<line x1="272.0" y1="334.2" x2="272.0" y2="338.6" stroke="#000" stroke-width="1.25" />
<text x="0" y="0" font-size="10.2" fill="#262626" stroke="#262626" stroke-width="0.12" font-family='"Liberation Sans", sans-serif' textLength="56.0" lengthAdjust="spacingAndGlyphs" transform="translate(261.1,397.6) rotate(-60)">NP-Immuno</text>
<line x1="300.9" y1="334.2" x2="300.9" y2="338.6" stroke="#000" stroke-width="1.25" />
<text x="0" y="0" font-size="10.2" fill="#262626" stroke="#262626" stroke-width="0.12" font-family='"Liberation Sans", sans-serif' textLength="57.1" lengthAdjust="spacingAndGlyphs" transform="translate(289.73,398.55) rotate(-60)">NetMHCpan</text>
<line x1="329.6" y1="334.2" x2="329.6" y2="338.6" stroke="#000" stroke-width="1.25" />
<text x="0" y="0" font-size="10.2" fill="#262626" stroke="#262626" stroke-width="0.12" font-family='"Liberation Sans", sans-serif' textLength="44.3" lengthAdjust="spacingAndGlyphs" transform="translate(321.63,387.46) rotate(-60)">DeepNeo</text>
<line x1="358.5" y1="334.2" x2="358.5" y2="338.6" stroke="#000" stroke-width="1.25" />
<text x="0" y="0" font-size="10.2" fill="#262626" stroke="#262626" stroke-width="0.12" font-family='"Liberation Sans", sans-serif' textLength="29.6" lengthAdjust="spacingAndGlyphs" transform="translate(354.2,374.73) rotate(-60)">PRIME</text>
<line x1="387.5" y1="334.2" x2="387.5" y2="338.6" stroke="#000" stroke-width="1.25" />
<text x="0" y="0" font-size="10.2" fill="#262626" stroke="#262626" stroke-width="0.12" font-family='"Liberation Sans", sans-serif' textLength="43.4" lengthAdjust="spacingAndGlyphs" transform="translate(379.75,386.68) rotate(-60)">ICERFIRE</text>
<text x="426.9" y="217.0" font-size="13.6" font-weight="bold" fill="#000" font-family='"Liberation Sans", sans-serif' text-anchor="start" stroke="#000" stroke-width="0.35" >d</text>
<line x1="458.0" y1="364.3" x2="462.6" y2="364.3" stroke="#000" stroke-width="1.25" />
<text x="438.0" y="368.7" font-size="10.4" font-weight="normal" fill="#262626" font-family='"Liberation Sans", sans-serif' text-anchor="start" textLength="13.9" lengthAdjust="spacingAndGlyphs" stroke="#262626" stroke-width="0.12" >0.0</text>
<line x1="458.0" y1="344.04" x2="462.6" y2="344.04" stroke="#000" stroke-width="1.25" />
<text x="438.0" y="348.44" font-size="10.4" font-weight="normal" fill="#262626" font-family='"Liberation Sans", sans-serif' text-anchor="start" textLength="13.9" lengthAdjust="spacingAndGlyphs" stroke="#262626" stroke-width="0.12" >0.1</text>
<line x1="458.0" y1="323.78" x2="462.6" y2="323.78" stroke="#000" stroke-width="1.25" />
<text x="438.0" y="328.18" font-size="10.4" font-weight="normal" fill="#262626" font-family='"Liberation Sans", sans-serif' text-anchor="start" textLength="13.9" lengthAdjust="spacingAndGlyphs" stroke="#262626" stroke-width="0.12" >0.2</text>
<line x1="458.0" y1="303.52" x2="462.6" y2="303.52" stroke="#000" stroke-width="1.25" />
<text x="438.0" y="307.92" font-size="10.4" font-weight="normal" fill="#262626" font-family='"Liberation Sans", sans-serif' text-anchor="start" textLength="13.9" lengthAdjust="spacingAndGlyphs" stroke="#262626" stroke-width="0.12" >0.3</text>
<line x1="458.0" y1="283.26" x2="462.6" y2="283.26" stroke="#000" stroke-width="1.25" />
<text x="438.0" y="287.66" font-size="10.4" font-weight="normal" fill="#262626" font-family='"Liberation Sans", sans-serif' text-anchor="start" textLength="13.9" lengthAdjust="spacingAndGlyphs" stroke="#262626" stroke-width="0.12" >0.4</text>
<line x1="458.0" y1="263.0" x2="462.6" y2="263.0" stroke="#000" stroke-width="1.25" />
<text x="438.0" y="267.4" font-size="10.4" font-weight="normal" fill="#262626" font-family='"Liberation Sans", sans-serif' text-anchor="start" textLength="13.9" lengthAdjust="spacingAndGlyphs" stroke="#262626" stroke-width="0.12" >0.5</text>
<line x1="458.0" y1="242.74" x2="462.6" y2="242.74" stroke="#000" stroke-width="1.25" />
<text x="438.0" y="247.14" font-size="10.4" font-weight="normal" fill="#262626" font-family='"Liberation Sans", sans-serif' text-anchor="start" textLength="13.9" lengthAdjust="spacingAndGlyphs" stroke="#262626" stroke-width="0.12" >0.6</text>
<line x1="458.0" y1="222.48" x2="462.6" y2="222.48" stroke="#000" stroke-width="1.25" />
<text x="438.0" y="226.88" font-size="10.4" font-weight="normal" fill="#262626" font-family='"Liberation Sans", sans-serif' text-anchor="start" textLength="13.9" lengthAdjust="spacingAndGlyphs" stroke="#262626" stroke-width="0.12" >0.7</text>
<text x="0" y="0" font-size="10.4" fill="#262626" stroke="#262626" stroke-width="0.12" font-family='"Liberation Sans", sans-serif' textLength="33.9" lengthAdjust="spacingAndGlyphs" transform="translate(430.3,303.7) rotate(-90)">AUROC</text>
<rect x="468.8" y="215.7" width="9.98" height="148.6" fill="#aecbea" stroke="none" stroke-width="1" />
<rect x="478.78" y="227.2" width="9.98" height="137.1" fill="#e3b28f" stroke="none" stroke-width="1" />
<rect x="488.76" y="243.6" width="9.98" height="120.7" fill="#a0e3aa" stroke="none" stroke-width="1" />
<rect x="498.74" y="222.1" width="9.98" height="142.2" fill="#e8a5a5" stroke="none" stroke-width="1" />
<rect x="508.72" y="229.2" width="9.98" height="135.1" fill="#d3c5f6" stroke="none" stroke-width="1" />
<rect x="531.2" y="215.7" width="9.98" height="148.6" fill="#aecbea" stroke="none" stroke-width="1" />
<rect x="541.18" y="233.1" width="9.98" height="131.2" fill="#e3b28f" stroke="none" stroke-width="1" />
<rect x="551.16" y="229.2" width="9.98" height="135.1" fill="#a0e3aa" stroke="none" stroke-width="1" />
<rect x="462.7" y="208.4" width="124.7" height="155.9" fill="none" stroke="#000" stroke-width="1.4"/>
<line x1="493.4" y1="364.3" x2="493.4" y2="368.7" stroke="#000" stroke-width="1.25" />
<line x1="555.9" y1="364.3" x2="555.9" y2="368.7" stroke="#000" stroke-width="1.25" />
<text x="492.0" y="382.0" font-size="10.4" font-weight="normal" fill="#262626" font-family='"Liberation Sans", sans-serif' text-anchor="start" textLength="2.8" lengthAdjust="spacingAndGlyphs" stroke="#262626" stroke-width="0.12" >I</text>
<text x="553.1" y="382.0" font-size="10.4" font-weight="normal" fill="#262626" font-family='"Liberation Sans", sans-serif' text-anchor="start" textLength="5.8" lengthAdjust="spacingAndGlyphs" stroke="#262626" stroke-width="0.12" >II</text>
<text x="514.2" y="396.6" font-size="10.4" font-weight="normal" fill="#262626" font-family='"Liberation Sans", sans-serif' text-anchor="start" textLength="22.5" lengthAdjust="spacingAndGlyphs" stroke="#262626" stroke-width="0.12" >MHC</text>
<rect x="592.8" y="286.2" width="90.6" height="73.2" rx="2" ry="2" fill="#fff" stroke="#d6d6d6" stroke-width="0.9"/>
<rect x="596.2" y="290.6" width="19.0" height="6.2" fill="#aecbea" stroke="none" stroke-width="1" />
<text x="623.7" y="297.3" font-size="10.2" font-weight="normal" fill="#262626" font-family='"Liberation Sans", sans-serif' text-anchor="start" textLength="55.4" lengthAdjust="spacingAndGlyphs" stroke="#262626" stroke-width="0.12" >NP-Immuno</text>
<rect x="596.2" y="304.68" width="19.0" height="6.2" fill="#e3b28f" stroke="none" stroke-width="1" />
<text x="623.7" y="311.38" font-size="10.2" font-weight="normal" fill="#262626" font-family='"Liberation Sans", sans-serif' text-anchor="start" textLength="26.4" lengthAdjust="spacingAndGlyphs" stroke="#262626" stroke-width="0.12" >PHBR</text>
<rect x="596.2" y="318.76" width="19.0" height="6.2" fill="#a0e3aa" stroke="none" stroke-width="1" />
<text x="623.7" y="325.46" font-size="10.2" font-weight="normal" fill="#262626" font-family='"Liberation Sans", sans-serif' text-anchor="start" textLength="44.0" lengthAdjust="spacingAndGlyphs" stroke="#262626" stroke-width="0.12" >DeepNeo</text>
<rect x="596.2" y="332.84" width="19.0" height="6.2" fill="#e8a5a5" stroke="none" stroke-width="1" />
<text x="623.7" y="339.54" font-size="10.2" font-weight="normal" fill="#262626" font-family='"Liberation Sans", sans-serif' text-anchor="start" textLength="29.2" lengthAdjust="spacingAndGlyphs" stroke="#262626" stroke-width="0.12" >PRIME</text>
<rect x="596.2" y="346.92" width="19.0" height="6.2" fill="#d3c5f6" stroke="none" stroke-width="1" />
<text x="623.7" y="353.62" font-size="10.2" font-weight="normal" fill="#262626" font-family='"Liberation Sans", sans-serif' text-anchor="start" textLength="43.0" lengthAdjust="spacingAndGlyphs" stroke="#262626" stroke-width="0.12" >ICERFIRE</text>
</g>
</svg></body></html>
